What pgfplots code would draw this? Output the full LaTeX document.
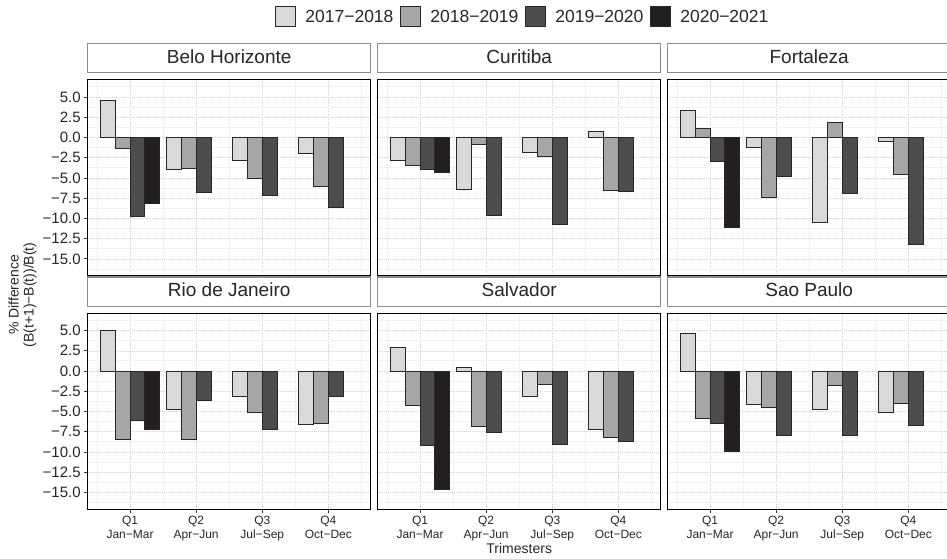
\documentclass[border=0pt]{standalone}
\usepackage{fontspec}
\setmainfont{Liberation Sans}
\usepackage{pgfplots}
\pgfplotsset{compat=1.18}
\definecolor{cA}{HTML}{D9D9D9}
\definecolor{cB}{HTML}{A6A6A6}
\definecolor{cC}{HTML}{4D4D4D}
\definecolor{cD}{HTML}{231F20}
\definecolor{stripgray}{HTML}{8C8C8C}
\pgfplotsset{
  panel/.style={
    scale only axis, width=283pt, height=196.2pt,
    xmin=0.36, xmax=4.64, ymin=-17.08, ymax=7.16,
    ybar, bar width=0.225,
    axis line style={black, line width=1pt},
    xtick={1,2,3,4}, minor xtick={0.5,1.5,2.5,3.5,4.5},
    ytick={-15,-12.5,-10,-7.5,-5,-2.5,0,2.5,5},
    minor ytick={-16.25,-13.75,-11.25,-8.75,-6.25,-3.75,-1.25,1.25,3.75,6.25},
    grid=both,
    major grid style={gray!35, line width=0.55pt, dash pattern=on 1pt off 1pt},
    minor grid style={gray!11, line width=0.9pt},
    tick align=outside, tick pos=left,
    major tick length=3.5pt, minor tick length=0pt,
    tick style={black!80, line width=0.8pt},
    xticklabels={}, yticklabels={},
    yticklabel style={font=\fontsize{15}{17}\selectfont, text=black!85},
    xticklabel style={font=\fontsize{12}{13.3}\selectfont, text=black!85, align=center},
    title style={at={(0.5,1)}, anchor=south, yshift=0pt, draw=stripgray, line width=1.2pt,
      fill=white, minimum width=283pt, minimum height=29.5pt, inner sep=0pt,
      text height=14pt, text depth=4pt,
      font=\fontsize{19}{22}\selectfont, text=black!85},
    legend image code/.code={\draw[#1, line width=0.9pt] (0pt,-10pt) rectangle (20pt,10pt);},
  },
  leftcol/.style={yticklabels={−15.0,−12.5,−10.0,−7.5,−5.0,−2.5,0.0,2.5,5.0}},
  notleft/.style={ytick style={draw=none}},
  toprow/.style={xtick style={draw=none}},
  botrow/.style={xticklabels={{Q1\\Jan−Mar},{Q2\\Apr−Jun},{Q3\\Jul−Sep},{Q4\\Oct−Dec}}},
  s1/.style={fill=cA, draw=black!85, line width=0.9pt, bar shift=-0.3375},
  s2/.style={fill=cB, draw=black!85, line width=0.9pt, bar shift=-0.1125},
  s3/.style={fill=cC, draw=black!85, line width=0.9pt, bar shift=0.1125},
  s4/.style={fill=cD, draw=black!85, line width=0.9pt, bar shift=0.3375},
}
\begin{document}
\begin{tikzpicture}[x=1pt,y=1pt]
% ---------- top row ----------
\begin{axis}[panel, leftcol, toprow, at={(87.7pt,282.3pt)}, anchor=south west, title={Belo Horizonte},
  legend columns=4,
  legend style={at={(1.538,1.32)}, anchor=center, draw=none, fill=none,
    font=\fontsize{17.5}{20}\selectfont, text=black!85,
    /tikz/every even column/.append style={column sep=5pt},
    /tikz/every odd column/.append style={column sep=7pt}}]
\addplot[s1] coordinates {(1,4.58) (2,-3.92) (3,-2.85) (4,-2.02)};
\addplot[s2] coordinates {(1,-1.40) (2,-3.79) (3,-5.03) (4,-6.06)};
\addplot[s3] coordinates {(1,-9.77) (2,-6.80) (3,-7.22) (4,-8.62)};
\addplot[s4] coordinates {(1,-8.16)};
\legend{2017−2018,2018−2019,2019−2020,2020−2021}
\end{axis}
\begin{axis}[panel, notleft, toprow, at={(377.7pt,282.3pt)}, anchor=south west, title={Curitiba}]
\addplot[s1] coordinates {(1,-2.89) (2,-6.39) (3,-1.86) (4,0.70)};
\addplot[s2] coordinates {(1,-3.42) (2,-0.82) (3,-2.39) (4,-6.52)};
\addplot[s3] coordinates {(1,-3.92) (2,-9.61) (3,-10.80) (4,-6.68)};
\addplot[s4] coordinates {(1,-4.29)};
\end{axis}
\begin{axis}[panel, notleft, toprow, at={(667.7pt,282.3pt)}, anchor=south west, title={Fortaleza}]
\addplot[s1] coordinates {(1,3.38) (2,-1.24) (3,-10.47) (4,-0.45)};
\addplot[s2] coordinates {(1,1.15) (2,-7.38) (3,1.81) (4,-4.62)};
\addplot[s3] coordinates {(1,-3.01) (2,-4.78) (3,-6.89) (4,-13.28)};
\addplot[s4] coordinates {(1,-11.09)};
\end{axis}
% ---------- bottom row ----------
\begin{axis}[panel, leftcol, botrow, at={(87.7pt,48.7pt)}, anchor=south west, title={Rio de Janeiro}]
\addplot[s1] coordinates {(1,5.02) (2,-4.69) (3,-3.13) (4,-6.58)};
\addplot[s2] coordinates {(1,-8.44) (2,-8.48) (3,-5.10) (4,-6.50)};
\addplot[s3] coordinates {(1,-6.09) (2,-3.66) (3,-7.20) (4,-3.13)};
\addplot[s4] coordinates {(1,-7.24)};
\end{axis}
\begin{axis}[panel, notleft, botrow, at={(377.7pt,48.7pt)}, anchor=south west, title={Salvador},
  xlabel={Trimesters}, xlabel style={font=\fontsize{14}{16}\selectfont, text=black!85, yshift=4pt}]
\addplot[s1] coordinates {(1,2.96) (2,0.41) (3,-3.13) (4,-7.16)};
\addplot[s2] coordinates {(1,-4.28) (2,-6.83) (3,-1.65) (4,-8.23)};
\addplot[s3] coordinates {(1,-9.18) (2,-7.61) (3,-9.05) (4,-8.64)};
\addplot[s4] coordinates {(1,-14.65)};
\end{axis}
\begin{axis}[panel, notleft, botrow, at={(667.7pt,48.7pt)}, anchor=south west, title={Sao Paulo}]
\addplot[s1] coordinates {(1,4.69) (2,-4.07) (3,-4.69) (4,-5.14)};
\addplot[s2] coordinates {(1,-5.84) (2,-4.49) (3,-1.77) (4,-3.99)};
\addplot[s3] coordinates {(1,-6.42) (2,-7.94) (3,-7.90) (4,-6.71)};
\addplot[s4] coordinates {(1,-9.96)};
\end{axis}
\node[rotate=90, align=center, font=\fontsize{14}{15}\selectfont, text=black!85] at (22.5pt,263pt)
  {\% Difference\\(B(t+1)−B(t))/B(t)};
\pgfresetboundingbox
\useasboundingbox (0pt,0pt) rectangle (947pt,558pt);
\end{tikzpicture}
\end{document}
